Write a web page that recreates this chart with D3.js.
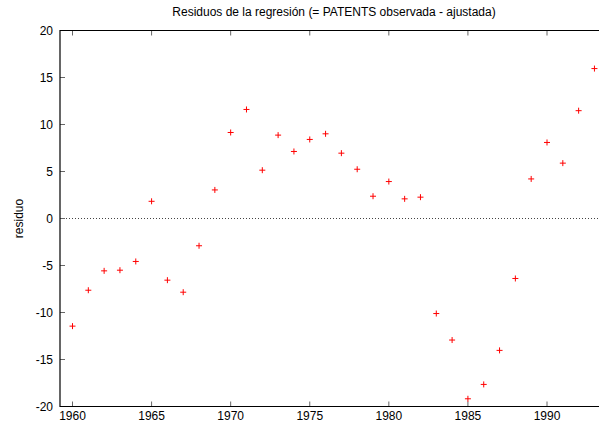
<!DOCTYPE html>
<html><head><meta charset="utf-8">
<script src="https://cdn.jsdelivr.net/npm/d3@7"></script>
<style>body{margin:0;background:#fff}svg{display:block}text{font-family:"Liberation Sans",Arial,sans-serif}</style>
</head><body>
<script>
const years = [1960,1961,1962,1963,1964,1965,1966,1967,1968,1969,1970,1971,1972,1973,1974,1975,1976,1977,1978,1979,1980,1981,1982,1983,1984,1985,1986,1987,1988,1989,1990,1991,1992,1993];
const residuals = [-11.45,-7.63,-5.57,-5.5,-4.57,1.83,-6.56,-7.84,-2.9,3.04,9.15,11.6,5.14,8.87,7.13,8.41,9.01,6.95,5.24,2.37,3.93,2.09,2.27,-10.11,-12.93,-19.18,-17.65,-14.03,-6.38,4.21,8.09,5.89,11.47,15.95];
const xTicks = [1960,1965,1970,1975,1980,1985,1990];
const yTicks = [-20,-15,-10,-5,0,5,10,15,20];
const title = "Residuos de la regresión (= PATENTS observada - ajustada)";
const yLabel = "residuo";

const W = 599, H = 425;
const L = 60, R = 610, T = 30.5, B = 406.5;
const svg = d3.select("body").append("svg").attr("width", W).attr("height", H);
const x = d3.scaleLinear().domain([1960, 1990]).range([72.5, 547]);
const y = d3.scaleLinear().domain([-20, 20]).range([B, T]);

// zero line
svg.append("line").attr("x1", L).attr("x2", R).attr("y1", y(0)).attr("y2", y(0))
  .attr("stroke", "#444").attr("stroke-width", 1).attr("stroke-dasharray", "1,2");

// ticks
const tickLen = 5;
xTicks.forEach(v => {
  svg.append("line").attr("x1", x(v)).attr("x2", x(v)).attr("y1", B).attr("y2", B - tickLen).attr("stroke", "#666");
  svg.append("line").attr("x1", x(v)).attr("x2", x(v)).attr("y1", T).attr("y2", T + tickLen).attr("stroke", "#666");
  svg.append("text").attr("x", x(v)).attr("y", 420).attr("text-anchor", "middle")
    .attr("font-size", 12).attr("fill", "#000").text(v);
});
yTicks.forEach(v => {
  svg.append("line").attr("x1", L).attr("x2", L + tickLen).attr("y1", y(v)).attr("y2", y(v)).attr("stroke", "#666");
  svg.append("text").attr("x", 53).attr("y", y(v) + 4).attr("text-anchor", "end")
    .attr("font-size", 12).attr("fill", "#000").text(v);
});

// frame
svg.append("path").attr("d", `M${R},${T}H${L}V${B}H${R}`).attr("fill", "none").attr("stroke", "#000").attr("stroke-width", 1.2);

// points
const s = 3;
svg.append("g").selectAll("path").data(years.map((yr, i) => [yr, residuals[i]])).join("path")
  .attr("d", d => `M${x(d[0]) - s},${y(d[1])}h${2 * s}M${x(d[0])},${y(d[1]) - s}v${2 * s}`)
  .attr("stroke", "#ff0000").attr("stroke-width", 1);

// title
svg.append("text").attr("x", 334).attr("y", 16).attr("text-anchor", "middle")
  .attr("font-size", 12).attr("fill", "#000").text(title);
// y label
svg.append("text").attr("transform", `translate(23,${y(0)}) rotate(-90)`).attr("text-anchor", "middle")
  .attr("font-size", 12).attr("fill", "#000").text(yLabel);
</script>
</body></html>
